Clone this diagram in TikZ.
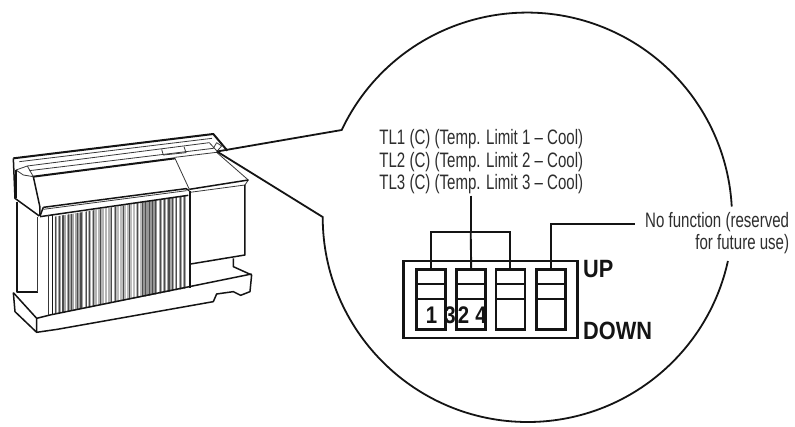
\documentclass[tikz,border=0pt]{standalone}
\usepackage{fontspec}
\setmainfont{Liberation Sans}
\newfontfamily\narrowreg[FakeStretch=0.72]{Liberation Sans}
\newfontfamily\narrowbold[FakeStretch=0.87]{Liberation Sans Bold}
\newfontfamily\narrownum[FakeStretch=0.85]{Liberation Sans Bold}
\definecolor{ink}{gray}{0.08}
\definecolor{soft}{gray}{0.18}
\tikzset{
  bubble/.style={draw=ink,line width=1.8pt},
  wire/.style={draw=ink,line width=1.9pt},
  dipframe/.style={draw=ink,line width=2.5pt,fill=white},
  callout/.style={text=soft,inner sep=0pt,font=\narrowreg\fontsize{20.9}{22.5}\selectfont},
  marktext/.style={text=ink,inner sep=0pt,font=\narrowbold\fontsize{25}{25}\selectfont},
  numtext/.style={text=ink,inner sep=0pt,font=\narrownum\fontsize{24}{24}\selectfont},
  unitthick/.style={draw=ink,line width=1.5pt,line join=round},
  unitthin/.style={draw=ink!85,line width=0.8pt,line join=round},
}
\begin{document}
\begin{tikzpicture}[x=1pt,y=-1pt]
\useasboundingbox[fill=white] (0,0) rectangle (795,426);
% ---- unit (drawn in 3x crop coordinates) ----
\begin{scope}[x=0.3333pt,y=-0.3333pt,shift={(0pt,-120pt)}]
  % fins
  \begin{scope}
    \clip (165,290) -- (558,226) -- (558,505) -- (165,582) -- cycle;
    \fill[gray!70] (160,200) rectangle (560,600);
    \fill[gray!58] (262,200) rectangle (330,600);
    \fill[gray!52] (345,200) rectangle (425,600);
    \fill[gray!82] (425,200) rectangle (470,600);
    \foreach \xa/\wa in {172/2,182/2,198/1,222/1,248/7,262/2,272/2,290/1,312/2,322/2,335/7,358/1,378/1,395/2,405/2,416/4,470/6,487/3,498/4,522/3,532/5,545/3}
      \fill[white] (\xa,200) rectangle ++(\wa,400);
    \foreach \xa/\wa in {165/4,176/3,186/2,190/2,205/2,214/2,232/3,240/2,244/3,258/3,268/2,280/2,300/2,332/3,345/2,368/2,388/2,410/2,425/4,434/3,446/3,456/3,466/3,480/3,493/3,505/5,515/4,528/3,540/4,551/5}
      \fill[black!70] (\xa,200) rectangle ++(\wa,400);
  \end{scope}
  % outer body
  \draw[unitthick,line width=2pt] (40,115) -- (640,42) -- (682,92);
  \draw[unitthick] (40,115) -- (45,235) -- (118,288);
  \draw[unitthick,line width=2pt] (52,245) -- (52,515) -- (113,515);
  \draw[unitthin] (113,290) -- (113,515);
  \draw[unitthick] (40,518) -- (45,575) -- (110,637) -- (172,628) -- (640,545) -- (650,522) -- (700,515) -- (722,526) -- (750,515) -- (755,465) -- (700,440) -- (700,415);
  \draw[unitthick] (40,518) -- (110,595) -- (110,637);
  \draw[unitthick] (110,595) -- (150,585) -- (755,462);
  % top strips
  \draw[unitthin] (58,125) -- (636,55);
  \draw[unitthin] (82,138) -- (628,68) -- (650,92);
  \draw[unitthin] (100,170) -- (82,138) -- (48,150) -- (70,165) -- (100,170);
  \draw[unitthick,line width=2pt] (100,170) -- (525,115);
  \draw[unitthin] (88,152) -- (640,85);
  \draw[unitthin] (485,88) -- (490,105) -- (558,98) -- (552,80);
  \draw[unitthin] (640,85) -- (650,68) -- (665,78) -- (650,95);
  % hood
  \draw[unitthick] (48,150) -- (48,235);
  \draw[unitthick] (100,170) -- (120,262) -- (120,288);
  \draw[unitthick] (130,262) -- (558,206) -- (568,212);
  \draw[unitthin] (130,268) -- (560,212);
  \draw[unitthick] (120,290) -- (565,226);
  \draw[unitthick] (120,288) -- (130,262);
  % right section
  \draw[unitthin] (525,112) -- (650,97) -- (745,180) -- (735,195);
  \draw[unitthin] (525,115) -- (568,208);
  \draw[unitthick] (568,208) -- (745,180);
  \draw[unitthin] (570,217) -- (735,195);
  \draw[unitthick] (735,195) -- (735,405) -- (572,432);
  \draw[unitthick] (570,212) -- (570,505);
  % left fin edge
  \draw[unitthin] (145,286) -- (145,586);
  \draw[unitthick] (158,284) -- (158,584);
\end{scope}
% ---- magnifier bubble ----
\coordinate (apex) at (217,151.5);
\coordinate (upperjoin) at (341.7,130);
\coordinate (lowerjoin) at (322.7,217);
\draw[bubble] (apex) -- (upperjoin) arc[start angle=-154.7,end angle=-3.1,radius=205];
\draw[bubble] (apex) -- (lowerjoin) arc[start angle=-180,end angle=-347.6,radius=205];
% ---- DIP block ----
\node[dipframe,minimum width=174pt,minimum height=77pt,inner sep=0pt] (frame) at (490.3,299.4) {};
\foreach \nm/\cx in {a/431.2,b/471.2,c/510.4,d/551.2}{
  \node[dipframe,minimum width=29pt,minimum height=60pt,inner sep=0pt] (sw\nm) at (\cx,299.3) {};
  \draw[wire,line width=2pt] (\cx-14.5,284.3) -- (\cx+14.5,284.3);
  \draw[wire,line width=2pt] (\cx-14.5,299) -- (\cx+14.5,299);
}
\node[numtext] (n1) at (431.5,315) {1};
\node[numtext] (n3) at (450,315) {3};
\node[numtext] (n2) at (463.5,315) {2};
\node[numtext] (n4) at (481,315) {4};
\node[marktext,anchor=west] (up) at (583,269) {UP};
\node[marktext,anchor=west] (down) at (583,330.5) {DOWN};
% ---- labels ----
\node[callout,align=center] (tl) at (481.3,161.7) {TL1 (C) (Temp. Limit 1 – Cool)\\TL2 (C) (Temp. Limit 2 – Cool)\\TL3 (C) (Temp. Limit 3 – Cool)};
\node[callout,align=right,anchor=east] (nof) at (789.3,233) {No function (reserved\\for future use)};
% ---- connectors ----
\coordinate (brk) at (470.7,232.3);
\coordinate (nofend) at (635,224.3);
\draw[wire] (tl.south -| brk) ++(0,1.5) -- (brk);
\draw[wire] (brk) -- (swb.north);
\draw[wire] (swa.north) -- (swa.north |- brk) -- (swc.north |- brk) -- (swc.north);
\draw[wire] (swd.north) -- (swd.north |- nofend) -- (nofend);
\end{tikzpicture}
\end{document}
